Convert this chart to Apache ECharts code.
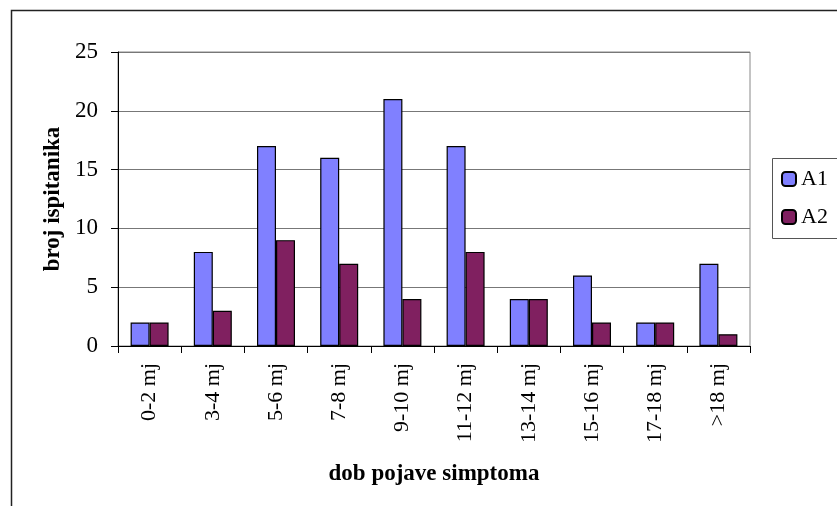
<!DOCTYPE html>
<html><head><meta charset="utf-8">
<script src="https://cdn.jsdelivr.net/npm/echarts@6/dist/echarts.min.js"></script>
<style>html,body{margin:0;padding:0;background:#fff}#c{width:837px;height:506px}</style>
</head><body><div id="c"></div>
<script>
const categories = ['0-2 mj','3-4 mj','5-6 mj','7-8 mj','9-10 mj','11-12 mj','13-14 mj','15-16 mj','17-18 mj','>18 mj'];
const seriesA1 = [2,8,17,16,21,17,4,6,2,7];
const seriesA2 = [2,3,9,7,4,8,4,2,2,1];
const yTicks = [0,5,10,15,20,25];
const F = "'Liberation Serif', 'Times New Roman', serif";
const chart = echarts.init(document.getElementById('c'));
chart.setOption({
  animation:false,
  graphic:[
    {type:'polyline',shape:{points:[[900,10.5],[11.5,10.5],[11.5,520]]},style:{fill:'none',stroke:'#222',lineWidth:1.5},z:-1},
    {type:'polyline',shape:{points:[[900,158.5],[772.5,158.5],[772.5,238.5],[900,238.5]]},style:{fill:'none',stroke:'#555',lineWidth:1},z:10}
  ],
  grid:{left:118,right:87,top:52,bottom:160,show:true,borderColor:'#888',borderWidth:1},
  legend:{orient:'vertical',left:772,top:158,padding:[10,10,10,9],itemWidth:14,itemHeight:14,itemGap:16,
    textStyle:{fontFamily:F,fontSize:22,lineHeight:22,color:'#000'},
    data:['A1','A2']},
  xAxis:{type:'category',data:categories,
    axisLine:{lineStyle:{color:'#000'}},
    axisTick:{show:true,length:7,lineStyle:{color:'#000'}},
    axisLabel:{rotate:90,margin:17,fontFamily:F,fontSize:22,color:'#000'},
    name:'dob pojave simptoma',nameLocation:'middle',nameGap:117,
    nameTextStyle:{fontFamily:F,fontSize:23,fontWeight:'bold',color:'#000'}},
  yAxis:{type:'value',min:0,max:25,interval:5,
    axisLine:{show:true,lineStyle:{color:'#000'}},
    axisTick:{show:true,length:7,lineStyle:{color:'#000'}},
    splitLine:{lineStyle:{color:'#777'}},
    axisLabel:{margin:20,fontFamily:F,fontSize:23,color:'#000',formatter:v=>yTicks.includes(v)?String(v):''},
    name:'broj ispitanika',nameLocation:'middle',nameGap:53,
    nameTextStyle:{fontFamily:F,fontSize:23,fontWeight:'bold',color:'#000'}},
  series:[
    {name:'A1',type:'bar',data:seriesA1,barWidth:19,barGap:'0%',itemStyle:{color:'#8080FF',borderColor:'#000',borderWidth:1.2}},
    {name:'A2',type:'bar',data:seriesA2,barWidth:19,itemStyle:{color:'#802060',borderColor:'#000',borderWidth:1.2}}
  ]
});
</script></body></html>
